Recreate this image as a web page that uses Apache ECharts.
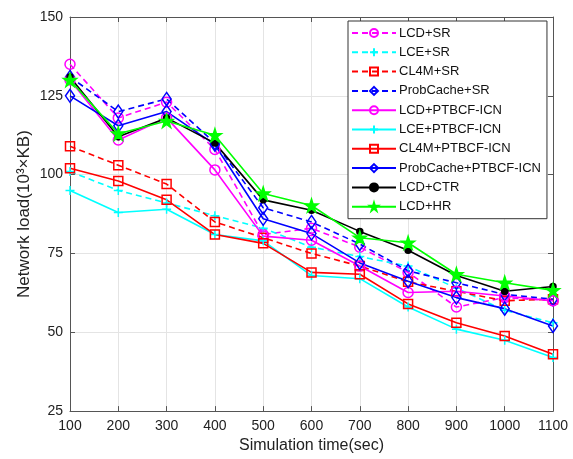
<!DOCTYPE html>
<html>
<head>
<meta charset="utf-8">
<script src="https://cdn.jsdelivr.net/npm/echarts@6/dist/echarts.min.js"></script>
<style>
html,body{margin:0;padding:0;background:#fff;}
#chart{width:573px;height:459px;}
</style>
</head>
<body>
<div id="chart"></div>
<script>
// ---- data ----
var times = [100, 200, 300, 400, 500, 600, 700, 800, 900, 1000, 1100];
var seriesNames = ['LCD+SR','LCE+SR','CL4M+SR','ProbCache+SR','LCD+PTBCF-ICN','LCE+PTBCF-ICN','CL4M+PTBCF-ICN','ProbCache+PTBCF-ICN','LCD+CTR','LCD+HR'];
var lcdSR        = [135, 118, 123, 108, 81, 83, 77, 69, 58, 61, 60];
var lceSR        = [101, 95, 91, 87, 83, 77, 74, 71, 64, 57, 53];
var cl4mSR       = [109, 103, 97, 85, 80, 75, 71, 66, 63, 60, 60.5];
var probSR       = [131, 120, 124, 110, 89.5, 85, 78, 69.5, 65.7, 62, 60.5];
var lcdPT        = [130, 111, 118, 101.5, 80.5, 79.2, 71, 62.6, 63, 61.5, 60];
var lcePT        = [95, 88, 89, 81, 79, 68, 67, 58, 51, 47.5, 42];
var cl4mPT       = [102, 98, 92, 81, 78.2, 69, 68.4, 59, 53, 48.8, 43];
var probPT       = [125, 115.5, 120, 109.5, 86, 81.3, 72, 66.2, 61, 57.5, 52];
var lcdCTR       = [131, 112, 118, 110, 92, 88.7, 82, 76, 68, 63, 64.5];
var lcdHR        = [130, 113, 117, 112.5, 94, 90.2, 80, 78.4, 68.4, 65.7, 63.3];
var yTicks = [25, 50, 75, 100, 125, 150];
var xTicks = times;

var allData = [lcdSR, lceSR, cl4mSR, probSR, lcdPT, lcePT, cl4mPT, probPT, lcdCTR, lcdHR];
var colors = ['#ff00ff','#00ffff','#ff0000','#0000ff','#ff00ff','#00ffff','#ff0000','#0000ff','#000000','#00ff00'];
var dashed = [true,true,true,true,false,false,false,false,false,false];
var plusPath = 'path://M5,0L5,10M0,5L10,5';
var starPath = 'path://M50,0L61.8,35.5L100,35.5L69.1,57.4L80.9,93L50,71L19.1,93L30.9,57.4L0,35.5L38.2,35.5Z';
var markers = [
  {symbol:'circle', size:10, fill:'transparent'},
  {symbol:plusPath, size:9, fill:'transparent'},
  {symbol:'rect', size:9, fill:'transparent'},
  {symbol:'diamond', size:[9,13], fill:'transparent'},
  {symbol:'circle', size:10, fill:'transparent'},
  {symbol:plusPath, size:9, fill:'transparent'},
  {symbol:'rect', size:9, fill:'transparent'},
  {symbol:'diamond', size:[9,13], fill:'transparent'},
  {symbol:'circle', size:6, fill:'#000000'},
  {symbol:starPath, size:13, fill:'#00ff00'}
];

var series = allData.map(function(vals, i){
  return {
    name: seriesNames[i],
    type: 'line',
    xAxisIndex: 0, yAxisIndex: 0,
    data: times.map(function(t, j){ return [t, vals[j]]; }),
    symbol: markers[i].symbol,
    symbolSize: markers[i].size,
    showAllSymbol: true,
    animation: false,
    lineStyle: {color: colors[i], width: 1.6, type: dashed[i] ? [6,4] : 'solid'},
    itemStyle: {color: markers[i].fill, borderColor: colors[i], borderWidth: 1.5, opacity: 1},
    emphasis: {disabled: true}
  };
});

var font = 'Arial, "Liberation Sans", sans-serif';
var chart = echarts.init(document.getElementById('chart'), null, {renderer:'canvas'});
chart.setOption({
  backgroundColor: '#ffffff',
  animation: false,
  textStyle: {fontFamily: font},
  grid: {left: 70, right: 20, top: 17, bottom: 46, containLabel: false},
  legend: {
    orient: 'vertical',
    left: 348, top: 21,
    data: seriesNames,
    itemWidth: 44, itemHeight: 10, itemGap: 5.3,
    padding: [5, 6, 5, 3],
    borderColor: '#333', borderWidth: 1,
    backgroundColor: '#ffffff',
    textStyle: {fontSize: 13, lineHeight: 14, color: '#111', fontFamily: font, padding:[0,0,0,-2]},
    selectedMode: false
  },
  xAxis: [{
    type: 'value', min: 100, max: 1100, interval: 100,
    name: 'Simulation time(sec)', nameLocation: 'middle', nameGap: 26,
    nameTextStyle: {fontSize: 16, color: '#222', fontFamily: font},
    axisLine: {show: true, onZero: false, lineStyle: {color: '#555', width: 1}},
    axisTick: {show: true, inside: true, length: 5, lineStyle: {color: '#555'}},
    axisLabel: {fontSize: 14, color: '#222', margin: 8, fontFamily: font, formatter: function(v){ return String(v); }},
    splitLine: {show: true, lineStyle: {color: '#e4e4e4', width: 1}}
  },{
    type: 'value', min: 100, max: 1100, interval: 100, position: 'top',
    axisLine: {show: true, onZero: false, lineStyle: {color: '#555', width: 1}},
    axisTick: {show: true, inside: true, length: 5, lineStyle: {color: '#555'}},
    axisLabel: {show: false}, splitLine: {show: false}
  }],
  yAxis: [{
    type: 'value', min: 25, max: 150, interval: 25,
    name: 'Network load(10³×KB)', nameLocation: 'middle', nameGap: 37,
    nameMoveOverlap: false,
    nameTextStyle: {fontSize: 17, color: '#222', fontFamily: font},
    axisLine: {show: true, onZero: false, lineStyle: {color: '#555', width: 1}},
    axisTick: {show: true, inside: true, length: 5, lineStyle: {color: '#555'}},
    axisLabel: {fontSize: 14, color: '#222', margin: 7, fontFamily: font},
    splitLine: {show: true, lineStyle: {color: '#e4e4e4', width: 1}}
  },{
    type: 'value', min: 25, max: 150, interval: 25, position: 'right',
    axisLine: {show: true, onZero: false, lineStyle: {color: '#555', width: 1}},
    axisTick: {show: true, inside: true, length: 5, lineStyle: {color: '#555'}},
    axisLabel: {show: false}, splitLine: {show: false}
  }],
  series: series
});
</script>
</body>
</html>
